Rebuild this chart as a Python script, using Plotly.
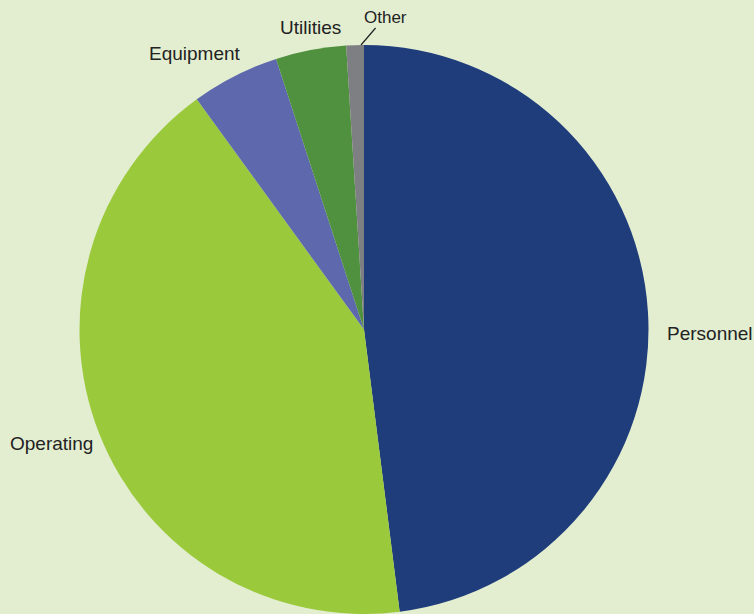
import plotly.graph_objects as go

labels = ["Personnel", "Operating", "Equipment", "Utilities", "Other"]
values = [48, 42, 5, 4, 1]
colors = ["#1F3D7A", "#9BC93C", "#5E69AD", "#4F913F", "#7E7F82"]

W, H = 754, 614
# label placement (pixel position of label anchor, anchor side, font size)
label_style = {
    "Personnel": dict(px=665, py=333, xanchor="left", size=19),
    "Operating": dict(px=95, py=443, xanchor="right", size=19),
    "Equipment": dict(px=195, py=53, xanchor="center", size=19),
    "Utilities": dict(px=310, py=27, xanchor="center", size=19),
}

fig = go.Figure(go.Pie(
    labels=labels,
    values=values,
    sort=False,
    direction="clockwise",
    rotation=0,
    marker=dict(colors=colors, line=dict(width=0)),
    textinfo="none",
    showlegend=False,
    hoverinfo="label+percent",
    domain=dict(x=[79 / W, 649 / W], y=[0.0, 1 - 45 / H]),
))

font_family = "Liberation Sans, Arial, sans-serif"
annotations = []
for lab in labels[:4]:
    s = label_style[lab]
    annotations.append(dict(
        text=lab, xref="paper", yref="paper",
        x=s["px"] / W, y=1 - s["py"] / H,
        xanchor=s["xanchor"], yanchor="middle", showarrow=False,
        font=dict(family=font_family, size=s["size"], color="#222222"),
    ))
# small slice label with leader line
annotations.append(dict(
    text=labels[4], xref="paper", yref="paper",
    x=361 / W, y=1 - 45 / H, ax=24, ay=-28,
    showarrow=True, arrowhead=0, arrowwidth=1.2, arrowcolor="#222222",
    standoff=0, startstandoff=0,
    font=dict(family=font_family, size=17, color="#222222"),
))

fig.update_layout(
    width=W, height=H,
    margin=dict(l=0, r=0, t=0, b=0),
    paper_bgcolor="#E3EED1",
    plot_bgcolor="#E3EED1",
    showlegend=False,
    annotations=annotations,
)

fig.write_html("out.html", config={"displayModeBar": False},
               post_script="document.body.style.margin='0';")
